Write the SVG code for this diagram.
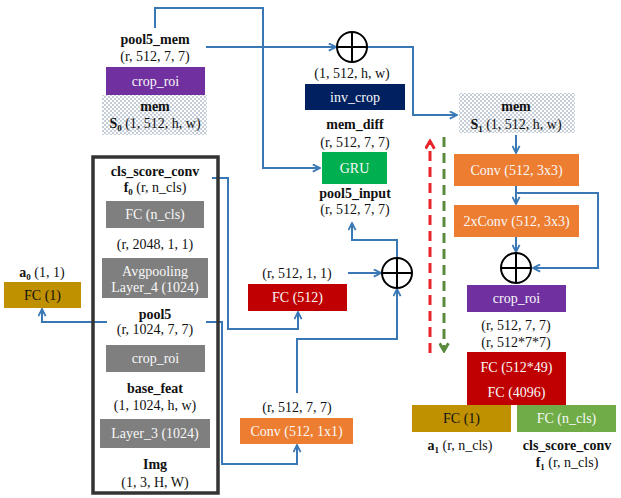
<svg xmlns="http://www.w3.org/2000/svg" width="621" height="498" viewBox="0 0 621 498">
<defs>
<style>
text{font-family:"Liberation Serif","Times New Roman","DejaVu Serif",serif;font-size:14px;text-anchor:middle;fill:#111}
.b{font-weight:bold}
.w{fill:#F8F8F8}
.sub{font-size:9px;font-weight:bold}
.c{fill:none;stroke:#3A78B5;stroke-width:2}
.plus{fill:#fff;stroke:#000;stroke-width:2}
</style>
<pattern id="dots" width="4" height="4" patternUnits="userSpaceOnUse">
<rect width="4" height="4" fill="#fff"/>
<circle cx="1" cy="1" r="0.75" fill="#6F82A0"/>
<circle cx="3" cy="3" r="0.75" fill="#6F82A0"/>
</pattern>
<marker id="arr" viewBox="0 0 10 10" refX="9" refY="5" markerWidth="9" markerHeight="9" markerUnits="userSpaceOnUse" orient="auto">
<path d="M1,1 L9,5 L1,9" fill="none" stroke="#3A78B5" stroke-width="2"/>
</marker>
<marker id="arrR" viewBox="0 0 10 10" refX="8" refY="5" markerWidth="11" markerHeight="11" markerUnits="userSpaceOnUse" orient="auto">
<path d="M1,1 L8,5 L1,9" fill="none" stroke="#E8232A" stroke-width="2.6"/>
</marker>
<marker id="arrG" viewBox="0 0 10 10" refX="8" refY="5" markerWidth="11" markerHeight="11" markerUnits="userSpaceOnUse" orient="auto">
<path d="M1,1 L8,5 L1,9" fill="none" stroke="#5A8A3C" stroke-width="2.6"/>
</marker>
</defs>
<rect width="621" height="498" fill="#fff"/>

<g id="connectors">
<path class="c" d="M155,28 V8 H263 V168 H320" marker-end="url(#arr)"/>
<path class="c" d="M206,47 H336" marker-end="url(#arr)"/>
<path class="c" d="M367,47 H413 V115 H457" marker-end="url(#arr)"/>
<path class="c" d="M516,135 V153" marker-end="url(#arr)"/>
<path class="c" d="M516,186 V204" marker-end="url(#arr)"/>
<path class="c" d="M516,193 H598 V268 H533" marker-end="url(#arr)"/>
<path class="c" d="M516,237 V252" marker-end="url(#arr)"/>
<path class="c" d="M212,178 H228 V329 H298 V312" marker-end="url(#arr)"/>
<path class="c" d="M206,322 H222 V464 H297 V445" marker-end="url(#arr)"/>
<path class="c" d="M107,322 H42 V309" marker-end="url(#arr)"/>
<path class="c" d="M297,393 V339 H397 V289" marker-end="url(#arr)"/>
<path class="c" d="M348,273 H381" marker-end="url(#arr)"/>
<path class="c" d="M397,258 V240 H352 V223" marker-end="url(#arr)"/>
<path d="M430,353 V141" fill="none" stroke="#E8232A" stroke-width="3" stroke-dasharray="10,6" marker-end="url(#arrR)"/>
<path d="M444,137 V351" fill="none" stroke="#5A8A3C" stroke-width="3" stroke-dasharray="10,6" marker-end="url(#arrG)"/>
</g>

<g font-family="Liberation Serif, Times New Roman, DejaVu Serif, serif">
<g id="pool5_mem">
<text class="b" x="155" y="44">pool5_mem</text>
<text x="155" y="61">(r, 512, 7, 7)</text>
</g>
<g id="crop_roi_top">
<rect x="106" y="67" width="99" height="28" fill="#7030A0"/>
<text class="w" x="155.5" y="86">crop_roi</text>
</g>
<g id="mem_s0">
<rect x="102" y="95" width="105" height="40" fill="url(#dots)"/>
<text class="b" x="155" y="111">mem</text>
<text x="155" y="128"><tspan class="b">S</tspan><tspan class="sub" dy="3">0</tspan><tspan dy="-3"> (1, 512, h, w)</tspan></text>
</g>

<g id="plus_top">
<circle class="plus" cx="352" cy="47" r="15"/>
<path d="M337,47 H367 M352,32 V62" stroke="#000" stroke-width="2"/>
</g>
<g id="label_1_512">
<text x="352" y="78">(1, 512, h, w)</text>
</g>
<g id="inv_crop">
<rect x="305" y="84" width="100" height="26" fill="#002060"/>
<text class="w" x="355" y="102">inv_crop</text>
</g>
<g id="mem_diff">
<text class="b" x="355" y="129">mem_diff</text>
<text x="355" y="147">(r, 512, 7, 7)</text>
</g>
<g id="gru">
<rect x="322" y="152" width="65" height="32" fill="#00B050"/>
<text class="w" x="354.5" y="173">GRU</text>
</g>
<g id="pool5_input">
<text class="b" x="355" y="198">pool5_input</text>
<text x="355" y="214">(r, 512, 7, 7)</text>
</g>

<g id="plus_mid">
<circle class="plus" cx="397" cy="273" r="15"/>
<path d="M382,273 H412 M397,258 V288" stroke="#000" stroke-width="2"/>
</g>
<g id="fc512">
<text x="297" y="278">(r, 512, 1, 1)</text>
<rect x="248" y="284" width="99" height="27" fill="#C00000"/>
<text class="w" x="297.5" y="302">FC (512)</text>
</g>
<g id="conv1x1">
<text x="297" y="412">(r, 512, 7, 7)</text>
<rect x="240" y="418" width="113" height="26" fill="#ED7D31"/>
<text class="w" x="296.5" y="436">Conv (512, 1x1)</text>
</g>

<g id="fc1_left">
<text x="42" y="277"><tspan class="b">a</tspan><tspan class="sub" dy="3">0</tspan><tspan dy="-3"> (1, 1)</tspan></text>
<rect x="4" y="282" width="77" height="26" fill="#BF9000"/>
<text x="42.5" y="300" fill="#FFF2CC">FC (1)</text>
</g>

<g id="backbone">
<rect x="93" y="157" width="125" height="336" fill="none" stroke="#333" stroke-width="3.5"/>
<text class="b" x="155" y="176">cls_score_conv</text>
<text x="155" y="192"><tspan class="b">f</tspan><tspan class="sub" dy="3">0</tspan><tspan dy="-3"> (r, n_cls)</tspan></text>
<rect x="106" y="201" width="98" height="27" fill="#7F7F7F"/>
<text class="w" x="155" y="219">FC (n_cls)</text>
<text x="155" y="249">(r, 2048, 1, 1)</text>
<rect x="102" y="258" width="106" height="40" fill="#7F7F7F"/>
<text class="w" x="155" y="276">Avgpooling</text>
<text class="w" x="155" y="292">Layer_4 (1024)</text>
<text class="b" x="155" y="319">pool5</text>
<text x="155" y="334">(r, 1024, 7, 7)</text>
<rect x="106" y="345" width="99" height="27" fill="#7F7F7F"/>
<text class="w" x="155.5" y="363">crop_roi</text>
<text class="b" x="155" y="393">base_feat</text>
<text x="155" y="410">(1, 1024, h, w)</text>
<rect x="100" y="419" width="110" height="29" fill="#7F7F7F"/>
<text class="w" x="155" y="438">Layer_3 (1024)</text>
<text class="b" x="155" y="469">Img</text>
<text x="155" y="487">(1, 3, H, W)</text>
</g>

<g id="mem_s1">
<rect x="459" y="93" width="116" height="40" fill="url(#dots)"/>
<text class="b" x="516" y="111">mem</text>
<text x="516" y="129"><tspan class="b">S</tspan><tspan class="sub" dy="3">1</tspan><tspan dy="-3"> (1, 512, h, w)</tspan></text>
</g>
<g id="conv3x3">
<rect x="454" y="154" width="125" height="32" fill="#ED7D31"/>
<text class="w" x="516.5" y="175">Conv (512, 3x3)</text>
</g>
<g id="conv2x">
<rect x="454" y="205" width="125" height="32" fill="#ED7D31"/>
<text class="w" x="516.5" y="226">2xConv (512, 3x3)</text>
</g>
<g id="plus_right">
<circle class="plus" cx="516" cy="268" r="15"/>
<path d="M501,268 H531 M516,253 V283" stroke="#000" stroke-width="2"/>
</g>
<g id="crop_roi_right">
<rect x="467" y="285" width="99" height="27" fill="#7030A0"/>
<text class="w" x="516.5" y="303">crop_roi</text>
<text x="516" y="330">(r, 512, 7, 7)</text>
<text x="516" y="347">(r, 512*7*7)</text>
</g>
<g id="fc_head">
<rect x="467" y="352" width="99" height="53" fill="#C00000"/>
<text class="w" x="516.5" y="372">FC (512*49)</text>
<text class="w" x="516.5" y="397">FC (4096)</text>
</g>
<g id="fc1_right">
<rect x="412" y="405" width="99" height="27" fill="#BF9000"/>
<text x="461.5" y="423" fill="#FFF2CC">FC (1)</text>
<text x="460" y="450"><tspan class="b">a</tspan><tspan class="sub" dy="3">1</tspan><tspan dy="-3"> (r, n_cls)</tspan></text>
</g>
<g id="fcncls_right">
<rect x="517" y="405" width="99" height="27" fill="#70AD47"/>
<text class="w" x="566.5" y="423">FC (n_cls)</text>
<text class="b" x="567" y="450">cls_score_conv</text>
<text x="567" y="467"><tspan class="b">f</tspan><tspan class="sub" dy="3">1</tspan><tspan dy="-3"> (r, n_cls)</tspan></text>
</g>
</g>
</svg>
